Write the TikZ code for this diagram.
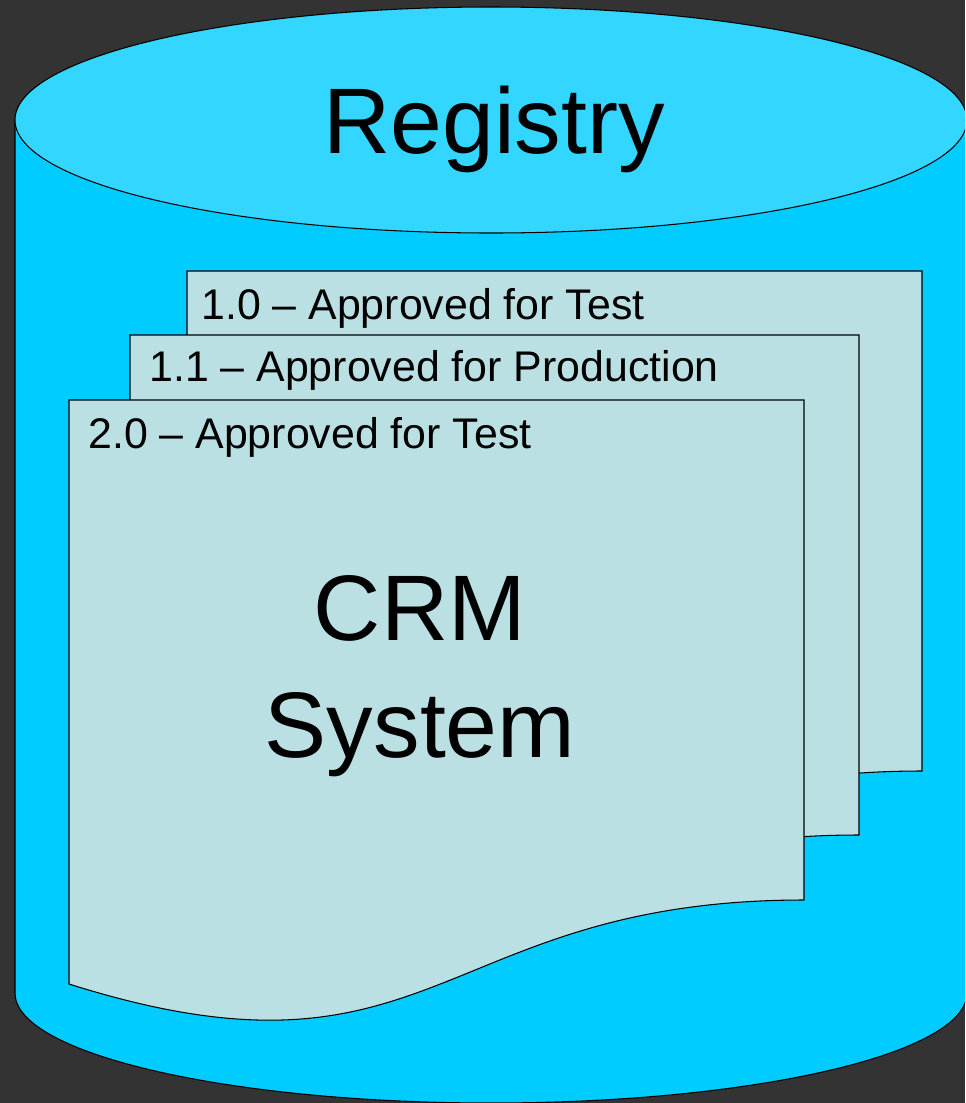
\documentclass[tikz,border=0pt]{standalone}
\usepackage{fontspec}
\setmainfont{Liberation Sans}
\definecolor{bgdark}{HTML}{333333}
\definecolor{regbody}{HTML}{00CCFF}
\definecolor{regtop}{HTML}{33D6FF}
\definecolor{pagefill}{HTML}{BBE0E3}
\def\docpage(#1,#2,#3){\draw[line width=0.6pt, fill=pagefill] (#1,#2) -- (#3,#2) -- (#3,{#2+500}) .. controls ({(#1+#3)/2},{#2+500}) and ({(#1+#3)/2},{#2+700}) .. (#1,{#2+584}) -- cycle;}

\begin{document}
\begin{tikzpicture}[x=0.02cm, y=-0.02cm]
		%%%%% START %%%%%
		
		\useasboundingbox (0, 0) rectangle (965, 1103);
		\fill[bgdark] (0, 0) rectangle (965, 1103);
		\clip (0, 0) rectangle (965, 1103);
		
		\draw[line width=0.6pt, fill=regbody] (15, 120) -- (15, 993) arc (180:0:476 and 110) -- (967, 120) -- cycle;
		\draw[line width=0.6pt, fill=regtop] (491, 120) ellipse (476 and 113);
		\node[anchor=base, inner sep=0, font=\fontsize{53}{64}\selectfont] (registry) at (494, 153) {Registry};
		
		\docpage(187,271,922)
		\node[anchor=base west, inner sep=0, font=\fontsize{24.4}{28}\selectfont] (v10) at (201, 319) {1.0 – Approved for Test};
		
		\docpage(130,335,859)
		\node[anchor=base west, inner sep=0, font=\fontsize{24.4}{28}\selectfont] (v11) at (149, 381) {1.1 – Approved for Production};
		
		\docpage(69,400,804)
		\node[anchor=base west, inner sep=0, font=\fontsize{24.4}{28}\selectfont] (v20) at (88, 448) {2.0 – Approved for Test};
		
		\node[anchor=base, align=center, inner sep=0, font=\fontsize{53}{66.5}\selectfont] (crm) at (420, 757) {CRM\\System};
		
		%%%%% END %%%%%
\end{tikzpicture}
\end{document}
